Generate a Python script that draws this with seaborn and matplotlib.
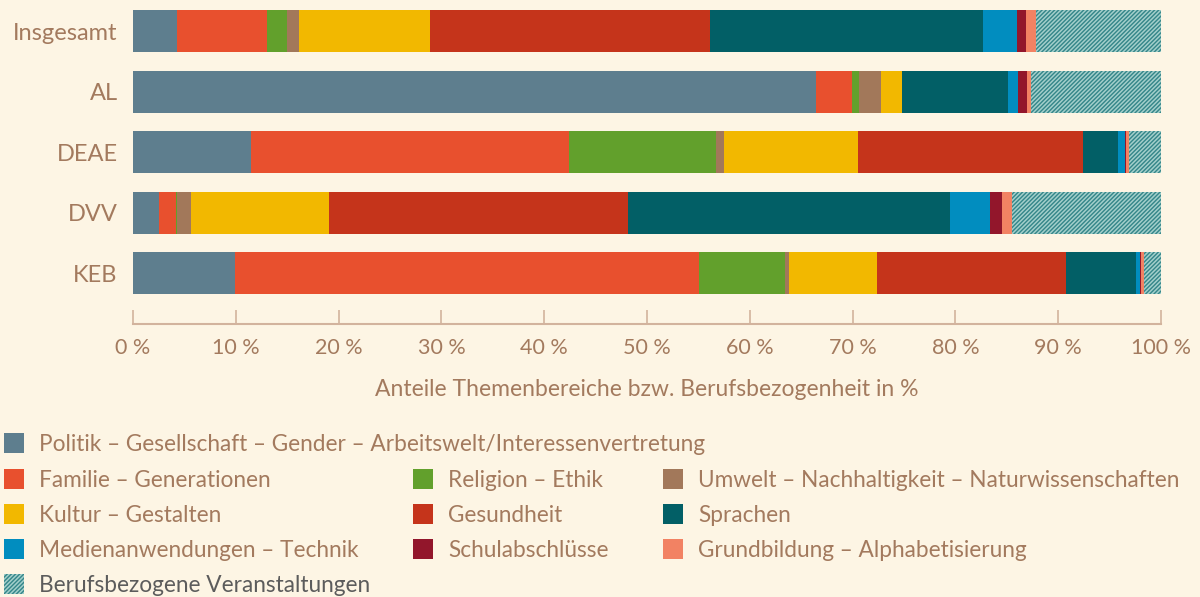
import pandas as pd
import seaborn as sns
import matplotlib.pyplot as plt
from matplotlib.patches import Patch

# ===============================
# Data (shares in %)
# ===============================
rows = ["Insgesamt", "AL", "DEAE", "DVV", "KEB"]

themes = [
    "Politik – Gesellschaft – Gender – Arbeitswelt/Interessenvertretung",
    "Familie – Generationen",
    "Religion – Ethik",
    "Umwelt – Nachhaltigkeit – Naturwissenschaften",
    "Kultur – Gestalten",
    "Gesundheit",
    "Sprachen",
    "Medienanwendungen – Technik",
    "Schulabschlüsse",
    "Grundbildung – Alphabetisierung",
    "Berufsbezogene Veranstaltungen",
]

politik = [4.3, 66.4, 11.5, 2.5, 9.9]
familie = [8.7, 3.5, 30.9, 1.7, 45.2]
religion = [2.0, 0.7, 14.3, 0.1, 8.3]
umwelt = [1.1, 2.2, 0.8, 1.3, 0.4]
kultur = [12.8, 2.0, 13.0, 13.5, 8.6]
gesundheit = [27.2, 0.0, 21.9, 29.1, 18.4]
sprachen = [26.6, 10.3, 3.4, 31.3, 6.8]
medien = [3.3, 1.0, 0.7, 3.9, 0.4]
schulabschluesse = [0.9, 0.9, 0.1, 1.1, 0.1]
grundbildung = [0.9, 0.4, 0.3, 1.0, 0.2]
berufsbezogen = [12.3, 12.6, 3.2, 14.6, 1.7]

colors = ["#5e7e8e", "#e8502e", "#62a02c", "#a2785a", "#f2b800", "#c5341b",
          "#025f66", "#018dbf", "#92162b", "#f28263", "#348689"]
hatch_line = "#a3cfcb"
bg = "#fdf5e4"
txt = "#a37a5e"
axis_c = "#d2b39d"

df = pd.DataFrame({
    "Bereich": rows,
    themes[0]: politik,
    themes[1]: familie,
    themes[2]: religion,
    themes[3]: umwelt,
    themes[4]: kultur,
    themes[5]: gesundheit,
    themes[6]: sprachen,
    themes[7]: medien,
    themes[8]: schulabschluesse,
    themes[9]: grundbildung,
    themes[10]: berufsbezogen,
})
cum = df[themes].cumsum(axis=1)

sns.set_style("white")
plt.rcParams["font.family"] = ["Lato", "DejaVu Sans"]
plt.rcParams["hatch.linewidth"] = 1.1
HATCH = "////////"

fig = plt.figure(figsize=(12, 5.97), dpi=100, facecolor=bg)
ax = fig.add_axes([133 / 1200, 1 - 324 / 597, 1028 / 1200, 323 / 597])
ax.set_facecolor(bg)

# stacked bars: draw cumulative totals from the last theme backwards
for i in reversed(range(len(themes))):
    kw = dict(edgecolor="none", linewidth=0)
    if i == len(themes) - 1:
        kw = dict(edgecolor=hatch_line, linewidth=0, hatch=HATCH)
    sns.barplot(x=cum[themes[i]], y=df["Bereich"], orient="h", color=colors[i],
                width=0.69, saturation=1, ax=ax, **kw)

ax.set_xlim(0, 100)
ax.set_ylim(4.84, -0.5)
ax.set_xticks(range(0, 101, 10))
ax.set_xticklabels([f"{v} %" for v in range(0, 101, 10)])
ax.set_ylabel("")
ax.set_xlabel("Anteile Themenbereiche bzw. Berufsbezogenheit in %",
              fontsize=16.5, color=txt, labelpad=15)

for s in ["top", "right", "left"]:
    ax.spines[s].set_visible(False)
ax.spines["bottom"].set_color(axis_c)
ax.spines["bottom"].set_linewidth(1.5)
ax.tick_params(axis="x", direction="in", length=10, width=1.2, color=axis_c,
               labelcolor=txt, labelsize=15.5, pad=10, bottom=True)
ax.tick_params(axis="y", length=0, labelcolor=txt, labelsize=17, pad=11)

# ===============================
# Legend (three blocks)
# ===============================
handles = []
for i, t in enumerate(themes):
    if i == len(themes) - 1:
        handles.append(Patch(facecolor=colors[i], edgecolor=hatch_line,
                             linewidth=0, hatch=HATCH, label=t))
    else:
        handles.append(Patch(facecolor=colors[i], edgecolor="none", label=t))

leg_kw = dict(frameon=False, fontsize=16.3, handlelength=0.9, handleheight=1.0,
              handletextpad=0.65, borderpad=0, borderaxespad=0, loc="center left")

leg1 = fig.legend(handles=[handles[0]], bbox_to_anchor=(4 / 1200, 1 - 444 / 597),
                  labelcolor=txt, **leg_kw)
order = [1, 4, 7, 2, 5, 8, 3, 6, 9]
leg2 = fig.legend(handles=[handles[k] for k in order], ncol=3,
                  bbox_to_anchor=(4 / 1200, 1 - 515 / 597), labelcolor=txt,
                  columnspacing=2.4, labelspacing=0.58, **leg_kw)
leg3 = fig.legend(handles=[handles[10]], bbox_to_anchor=(4 / 1200, 1 - 585 / 597),
                  labelcolor="#5c5c5c", **leg_kw)

fig.savefig("out.png", dpi=100, facecolor=bg)
